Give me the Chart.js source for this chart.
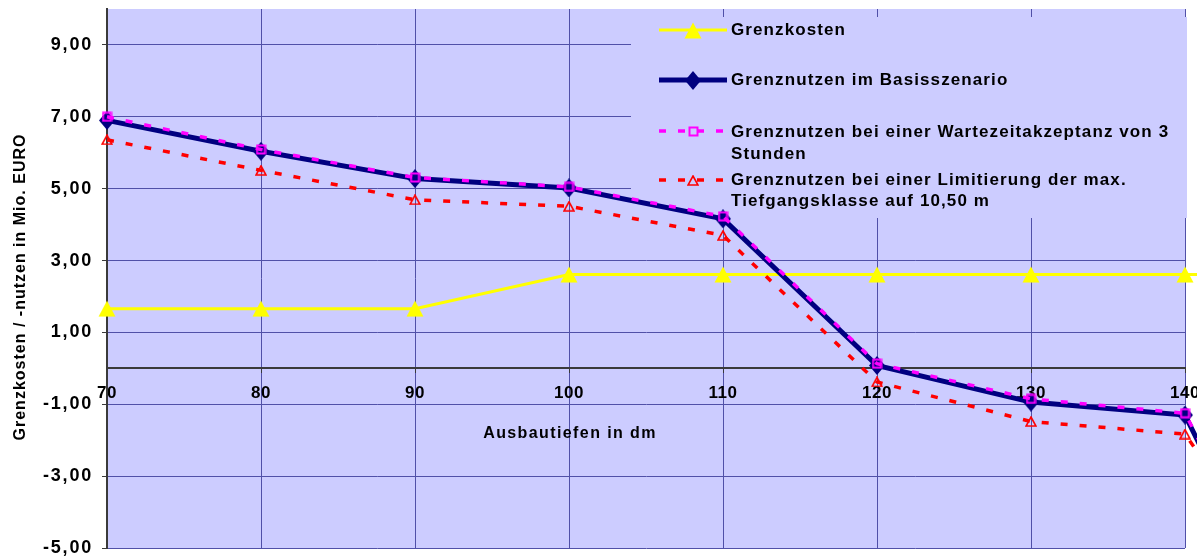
<!DOCTYPE html>
<html>
<head>
<meta charset="utf-8">
<title>Grenzkosten und Grenznutzen</title>
<script src="https://cdn.jsdelivr.net/npm/chart.js@4.4.1/dist/chart.umd.min.js"></script>
<style>
  html, body { margin: 0; padding: 0; background: #ffffff; }
  #wrap { width: 1197px; height: 558px; }
  canvas { display: block; }
</style>
</head>
<body>
<div id="wrap"><canvas id="chart" width="1197" height="558"></canvas></div>
<script>
// Ausbautiefen (dm) and the four series, in Mio. EURO
const ausbautiefen  = [70, 80, 90, 100, 110, 120, 130, 140, 150];
const grenzkosten   = [1.66, 1.66, 1.66, 2.61, 2.61, 2.61, 2.61, 2.61, 2.61];
const basisszenario = [6.90, 6.04, 5.28, 5.02, 4.16, 0.08, -0.94, -1.30, -10.0];
const wartezeit3h   = [7.00, 6.09, 5.31, 5.05, 4.23, 0.13, -0.85, -1.25, -9.5];
const tiefgang1050  = [6.36, 5.51, 4.69, 4.51, 3.70, -0.38, -1.48, -1.83, -8.0];

const seriesNames = [
  'Grenzkosten',
  'Grenznutzen im Basisszenario',
  'Grenznutzen bei einer Wartezeitakzeptanz von 3 Stunden',
  'Grenznutzen bei einer Limitierung der max. Tiefgangsklasse auf 10,50 m'
];
const legendLines = [
  ['Grenzkosten'],
  ['Grenznutzen im Basisszenario'],
  ['Grenznutzen bei einer Wartezeitakzeptanz von 3', 'Stunden'],
  ['Grenznutzen bei einer Limitierung der max.', 'Tiefgangsklasse auf 10,50 m']
];
const xRange = [70, 140];
const yTickValues = [-5, -3, -1, 1, 3, 5, 7, 9];
const xTitle = 'Ausbautiefen in dm';
const yTitle = 'Grenzkosten / -nutzen in Mio. EURO';

const FONT = "'Liberation Sans', Arial, sans-serif";
const PLOT_BG = '#CCCCFF';
const GRID = '#5050A8';
const AXIS = '#3a3a3a';

// Marker glyphs, centred on each point
function makeMarker(w, h, paint) {
  const c = document.createElement('canvas');
  c.width = w; c.height = h;
  paint(c.getContext('2d'));
  return c;
}
const yellowTriangle = makeMarker(18, 17, g => {
  g.fillStyle = '#FFFF00';
  g.beginPath(); g.moveTo(9, 0.5); g.lineTo(17.5, 16.5); g.lineTo(0.5, 16.5); g.closePath(); g.fill();
});
const navyDiamond = makeMarker(16, 19, g => {
  g.fillStyle = '#000080';
  g.beginPath(); g.moveTo(8, 0); g.lineTo(16, 9.5); g.lineTo(8, 19); g.lineTo(0, 9.5); g.closePath(); g.fill();
});
const magentaSquare = makeMarker(11, 11, g => {
  g.strokeStyle = '#FF00FF'; g.lineWidth = 2;
  g.strokeRect(1.5, 1.5, 8, 8);
});
const redTriangle = makeMarker(12, 11, g => {
  g.strokeStyle = '#FF0000'; g.lineWidth = 1.6;
  g.beginPath(); g.moveTo(6, 1); g.lineTo(11, 10); g.lineTo(1, 10); g.closePath(); g.stroke();
});

const toPoints = values => ausbautiefen.map((x, i) => ({ x, y: values[i] }));

// Plot-area fill
const plotBackground = {
  id: 'plotBackground',
  beforeDraw(chart) {
    const { ctx, chartArea: a } = chart;
    ctx.save();
    ctx.fillStyle = PLOT_BG;
    ctx.fillRect(a.left, a.top, a.right - a.left, a.bottom - a.top);
    ctx.restore();
  }
};

// Letter spacing for the axis tick labels
const tickSpacing = {
  id: 'tickSpacing',
  afterLayout(chart) {
    [['x', '0.5px'], ['y', '1.8px']].forEach(([id, sp]) => {
      const s = chart.scales[id];
      if (!s || s._spacedLabels) return;
      const original = s.drawLabels;
      s.drawLabels = function (area) {
        const c = this.ctx;
        c.save();
        c.letterSpacing = sp;
        original.call(this, area);
        c.restore();
      };
      s._spacedLabels = true;
    });
  }
};

// Legend panel inside the plot, upper right
const legendPanel = {
  id: 'legendPanel',
  beforeDatasetsDraw(chart) {
    const ctx = chart.ctx;
    const rows = [
      { y: 30,  base: [34.5] },
      { y: 80,  base: [84.5] },
      { y: 131, base: [136.5, 158.5] },
      { y: 180, base: [184.5, 206] }
    ];
    ctx.save();
    ctx.fillStyle = PLOT_BG;
    ctx.fillRect(631, 17, 556, 201);
    rows.forEach((row, i) => {
      const ds = chart.data.datasets[i];
      ctx.save();
      ctx.strokeStyle = ds.borderColor;
      ctx.lineWidth = ds.borderWidth;
      ctx.lineCap = 'butt';
      ctx.setLineDash(ds.borderDash || []);
      ctx.beginPath();
      ctx.moveTo(659, row.y);
      ctx.lineTo(727, row.y);
      ctx.stroke();
      ctx.restore();
      const m = ds.pointStyle;
      ctx.drawImage(m, Math.round(693 - m.width / 2), Math.round(row.y - m.height / 2));
      ctx.fillStyle = '#000000';
      ctx.font = 'bold 17px ' + FONT;
      ctx.letterSpacing = '1.1px';
      ctx.textAlign = 'left';
      ctx.textBaseline = 'alphabetic';
      legendLines[i].forEach((t, k) => ctx.fillText(t, 731, row.base[k]));
      ctx.letterSpacing = '0px';
    });
    ctx.restore();
  }
};

// Axis titles
const axisTitles = {
  id: 'axisTitles',
  afterDraw(chart) {
    const ctx = chart.ctx;
    ctx.save();
    ctx.fillStyle = '#000000';
    ctx.font = 'bold 16px ' + FONT;
    ctx.textAlign = 'center';
    ctx.textBaseline = 'alphabetic';
    ctx.letterSpacing = '1.4px';
    ctx.fillText(xTitle, 570, 438);
    ctx.letterSpacing = '1px';
    ctx.translate(25, 287);
    ctx.rotate(-Math.PI / 2);
    ctx.fillText(yTitle, 0, 0);
    ctx.restore();
  }
};

new Chart(document.getElementById('chart'), {
  type: 'line',
  data: {
    datasets: [
      {
        label: seriesNames[0], data: toPoints(grenzkosten),
        borderColor: '#FFFF00', backgroundColor: '#FFFF00', borderWidth: 3,
        pointStyle: yellowTriangle, pointRadius: 8, order: 4
      },
      {
        label: seriesNames[1], data: toPoints(basisszenario),
        borderColor: '#000080', backgroundColor: '#000080', borderWidth: 5,
        pointStyle: navyDiamond, pointRadius: 8, order: 3
      },
      {
        label: seriesNames[2], data: toPoints(wartezeit3h),
        borderColor: '#FF00FF', backgroundColor: '#FF00FF', borderWidth: 3.5,
        borderDash: [7, 12], pointStyle: magentaSquare, pointRadius: 6, order: 2
      },
      {
        label: seriesNames[3], data: toPoints(tiefgang1050),
        borderColor: '#FF0000', backgroundColor: '#FF0000', borderWidth: 3.5,
        borderDash: [7, 12], pointStyle: redTriangle, pointRadius: 6, order: 1
      }
    ].map(d => Object.assign(d, { fill: false, tension: 0, clip: false, borderCapStyle: 'butt', borderJoinStyle: 'miter' }))
  },
  options: {
    responsive: false,
    animation: false,
    devicePixelRatio: 1,
    events: [],
    layout: { autoPadding: false, padding: { left: 0, right: 12, top: 9, bottom: 10 } },
    plugins: { legend: { display: false }, tooltip: { enabled: false } },
    scales: {
      x: {
        type: 'linear',
        position: { y: 0 },
        // visible window set after the data limits, so the line keeps running past 140
        afterDataLimits: s => { s.min = xRange[0]; s.max = xRange[1]; },
        afterFit: s => { s.paddingLeft = 0; s.paddingRight = 0; },
        ticks: {
          stepSize: 10, autoSkip: false, maxRotation: 0, padding: 11,
          color: '#000000', font: { family: FONT, size: 17, weight: 'bold' },
          callback: v => String(v)
        },
        grid: { color: GRID, lineWidth: 1, drawTicks: true, tickLength: 4, tickColor: AXIS },
        border: { display: true, color: AXIS, width: 2 }
      },
      y: {
        type: 'linear',
        position: 'left',
        min: -5, max: 10,
        afterBuildTicks: s => { s.ticks = yTickValues.map(v => ({ value: v })); },
        afterFit: s => { s.width = 107; s.paddingTop = 0; s.paddingBottom = 0; },
        ticks: {
          padding: 9, color: '#000000', font: { family: FONT, size: 18, weight: 'bold' },
          callback: v => Number(v).toFixed(2).replace('.', ',')
        },
        grid: { color: GRID, lineWidth: 1, drawTicks: true, tickLength: 5, tickColor: AXIS },
        border: { display: true, color: AXIS, width: 2 }
      }
    }
  },
  plugins: [plotBackground, tickSpacing, legendPanel, axisTitles]
});
</script>
</body>
</html>
